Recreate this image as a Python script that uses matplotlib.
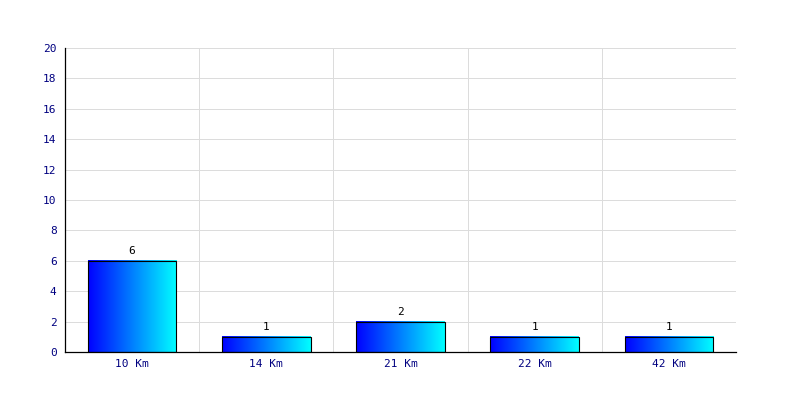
import numpy as np
import matplotlib
matplotlib.use("Agg")
import matplotlib.pyplot as plt
from matplotlib.colors import LinearSegmentedColormap

# data
categories = ["10 Km", "14 Km", "21 Km", "22 Km", "42 Km"]
counts = [6, 1, 2, 1, 1]
yticks = [0, 2, 4, 6, 8, 10, 12, 14, 16, 18, 20]

plt.rcParams['font.family'] = ['DejaVu Sans Mono']

fig = plt.figure(figsize=(8, 4), dpi=100)
ax = fig.add_axes([0.08125, 0.12, 0.83875, 0.76])

cmap = LinearSegmentedColormap.from_list("bc", ["#0000ff", "#00ffff"])
grad = np.linspace(0, 1, 256).reshape(1, -1)
width = 0.66

x = np.arange(len(categories))
for xi, v in zip(x, counts):
    x0 = xi - width / 2
    x1 = xi + width / 2
    ax.imshow(grad, extent=[x0, x1, 0, v], aspect='auto', cmap=cmap,
              zorder=2, interpolation='bilinear')
    ax.bar(xi, v, width=width, fill=False, edgecolor='black', linewidth=0.8, zorder=3)
    ax.text(xi, v + 0.3, str(v), ha='center', va='bottom', fontsize=8, color='black')

ax.set_xlim(-0.5, len(categories) - 0.5)
ax.set_ylim(0, 20)
ax.set_yticks(yticks)
ax.set_yticklabels([str(t) for t in yticks], color='#000080', fontsize=8)
ax.set_xticks(x)
ax.set_xticklabels(categories, color='#000080', fontsize=8)
ax.set_xticks(np.arange(len(categories) + 1) - 0.5, minor=True)
ax.tick_params(axis='both', which='both', length=0)
ax.tick_params(axis='y', pad=6)
ax.tick_params(axis='x', pad=5)

ax.grid(True, axis='y', color='#dcdcdc', linewidth=0.72, zorder=0)
ax.grid(True, axis='x', which='minor', color='#dcdcdc', linewidth=0.72, zorder=0)
ax.set_axisbelow(True)

ax.spines['top'].set_visible(False)
ax.spines['right'].set_visible(False)
ax.spines['left'].set_color('black')
ax.spines['bottom'].set_color('black')
ax.spines['left'].set_linewidth(0.9)
ax.spines['bottom'].set_linewidth(0.9)

fig.savefig("out.png", dpi=100)
